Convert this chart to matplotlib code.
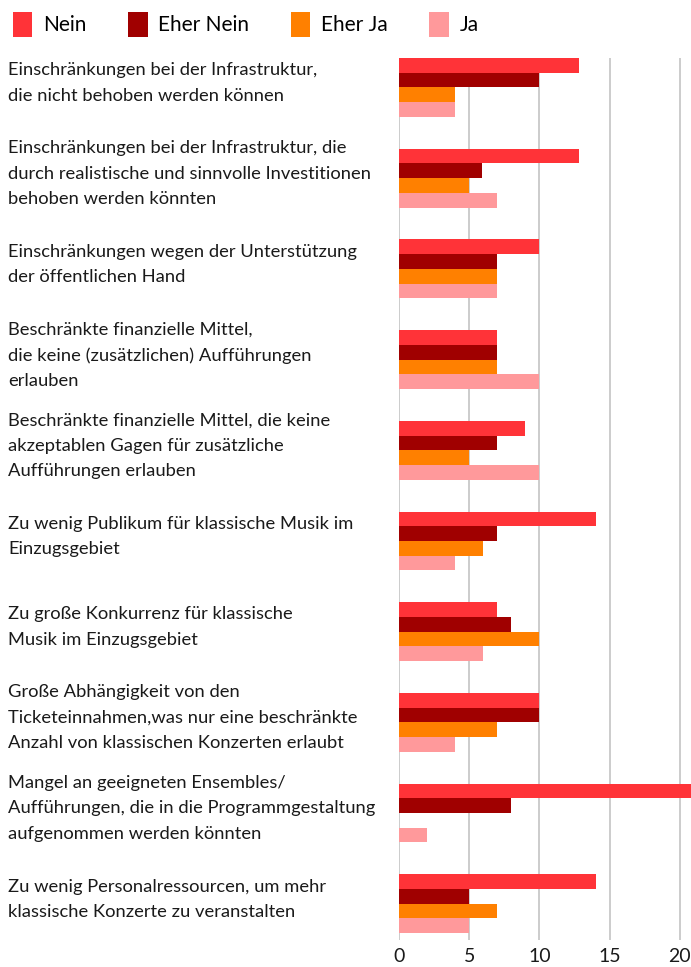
import matplotlib
matplotlib.use("Agg")
import matplotlib.pyplot as plt
import matplotlib.transforms as mtransforms
from matplotlib.patches import Patch
import numpy as np

plt.rcParams['font.family'] = ['Lato', 'DejaVu Sans']

# Kategorien und Werte
labels = [
    "Einschränkungen bei der Infrastruktur,\ndie nicht behoben werden können",
    "Einschränkungen bei der Infrastruktur, die\ndurch realistische und sinnvolle Investitionen\nbehoben werden könnten",
    "Einschränkungen wegen der Unterstützung\nder öffentlichen Hand",
    "Beschränkte finanzielle Mittel,\ndie keine (zusätzlichen) Aufführungen\nerlauben",
    "Beschränkte finanzielle Mittel, die keine\nakzeptablen Gagen für zusätzliche\nAufführungen erlauben",
    "Zu wenig Publikum für klassische Musik im\nEinzugsgebiet",
    "Zu große Konkurrenz für klassische\nMusik im Einzugsgebiet",
    "Große Abhängigkeit von den\nTicketeinnahmen,was nur eine beschränkte\nAnzahl von klassischen Konzerten erlaubt",
    "Mangel an geeigneten Ensembles/\nAufführungen, die in die Programmgestaltung\naufgenommen werden könnten",
    "Zu wenig Personalressourcen, um mehr\nklassische Konzerte zu veranstalten",
]
series_names = ["Nein", "Eher Nein", "Eher Ja", "Ja"]
nein = [12.8, 12.8, 10, 7, 9, 14, 7, 10, 21, 14]
eher_nein = [10, 5.9, 7, 7, 7, 7, 8, 10, 8, 5]
eher_ja = [4, 5, 7, 7, 5, 6, 10, 7, 0, 7]
ja = [4, 7, 7, 10, 10, 4, 6, 4, 2, 5]
colors = ["#ff3338", "#a00000", "#ff8000", "#ff999b"]

fig = plt.figure(figsize=(6.91, 9.67), dpi=100)
ax = fig.add_axes([399/691, 1 - 940/967, 1 - 399/691, (940 - 58)/967])

y = np.arange(len(labels))
h = 0.162
for k, (vals, c) in enumerate(zip([nein, eher_nein, eher_ja, ja], colors)):
    ax.barh(y - 1.5*h + k*h, vals, height=h, color=c, zorder=3)

ax.set_xlim(0, 20.8)
ax.set_ylim(9.40, -0.325)
ax.set_xticks([0, 5, 10, 15, 20])
ax.grid(axis='x', color='#c8c8c8', linewidth=1.3, zorder=0)
ax.set_yticks([])
for s in ax.spines.values():
    s.set_visible(False)
ax.tick_params(axis='x', length=0, labelsize=14, pad=6, colors='#1a1a1a')

trans = mtransforms.blended_transform_factory(fig.transFigure, ax.transData)
for i, lab in enumerate(labels):
    ax.text(8/691, i - 0.05, lab, transform=trans, ha='left', va='center',
            fontsize=13.2, color='#1a1a1a', linespacing=1.72)

handles = [Patch(facecolor=c, edgecolor='none') for c in colors]
fig.legend(handles, series_names, loc='upper left', bbox_to_anchor=(0.0, 1.0),
           ncol=4, frameon=False, fontsize=15, handlelength=0.95, handleheight=1.4,
           columnspacing=2.0, handletextpad=0.5, borderaxespad=0.2)

fig.savefig("out.png", dpi=100)
